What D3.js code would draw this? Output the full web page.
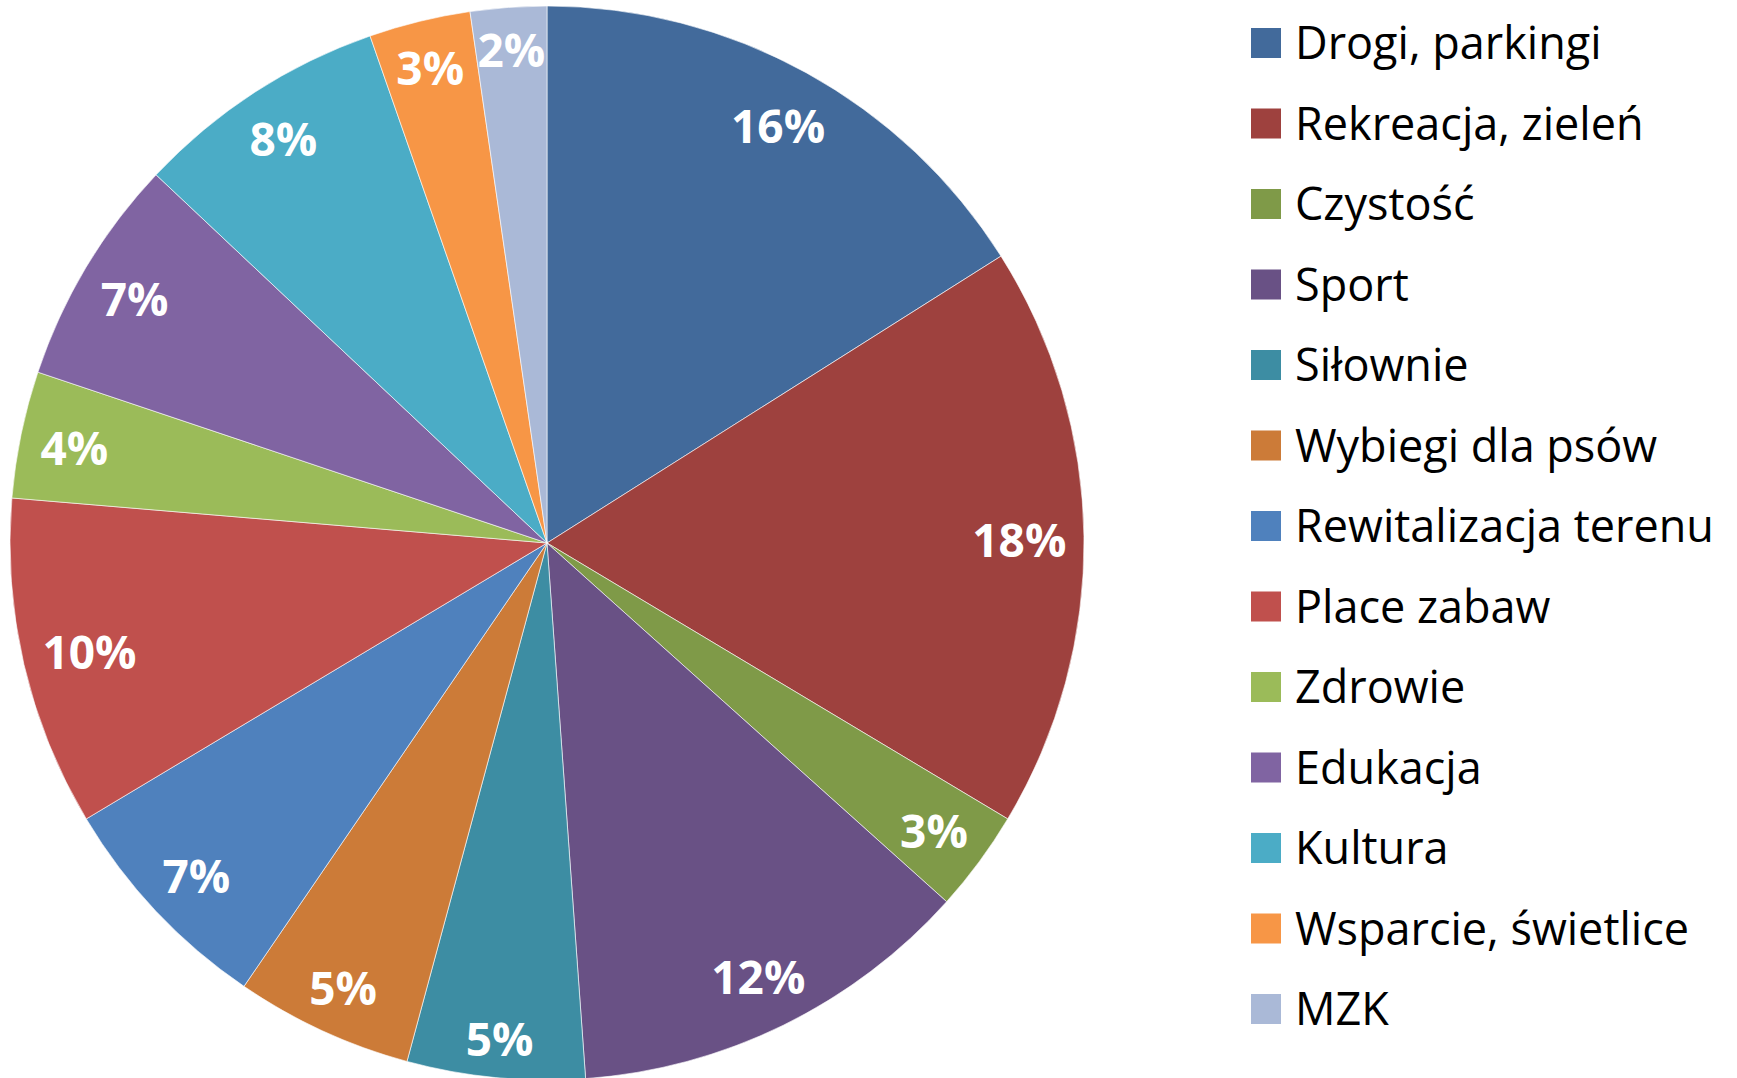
<!DOCTYPE html>
<html>
<head>
<meta charset="utf-8">
<script src="https://cdn.jsdelivr.net/npm/d3@7"></script>
<style>
  html, body { margin: 0; padding: 0; background: #fff; }
  svg text { font-family: "Open Sans", Lato, sans-serif; }
</style>
</head>
<body>
<div id="pie_chart"></div>
<script>
var categories = ["Drogi, parkingi", "Rekreacja, zieleń", "Czystość", "Sport", "Siłownie",
                  "Wybiegi dla psów", "Rewitalizacja terenu", "Place zabaw", "Zdrowie",
                  "Edukacja", "Kultura", "Wsparcie, świetlice", "MZK"]
var counts = [42, 46, 8, 32, 14, 14, 18, 26, 10, 18, 20, 8, 6]
var colors = ["#426A9B", "#9E413E", "#7F9A48", "#695185", "#3D8DA3", "#CC7B38",
              "#4F81BD", "#C0504D", "#9BBB59", "#8064A2", "#4BACC6", "#F79646", "#AAB9D7"]

const WIDTH = 1737
const HEIGHT = 1078
const CX = 547, CY = 543, R = 537

const svg = d3.select("#pie_chart")
            .append("svg")
            .attr("width", WIDTH)
            .attr("height", HEIGHT)

const total = d3.sum(counts)
var data = categories.map((c, i) => ({ name: c, value: counts[i], color: colors[i] }))

var pie = d3.pie().sort(null).value(d => d.value)
var arc = d3.arc().innerRadius(0).outerRadius(R)

const g_pie = svg.append("g")
            .attr("transform", "translate(" + CX + "," + CY + ")")

var arcs = pie(data)

g_pie.selectAll("path")
    .data(arcs)
    .enter()
    .append("path")
    .attr("d", arc)
    .attr("fill", d => d.data.color)
    .attr("stroke", "#ffffff")
    .attr("stroke-width", 0.6)

// labels placed "inside end": box corner kept a little inside the rim
var labels = g_pie.selectAll("text.lbl")
    .data(arcs)
    .enter()
    .append("text")
    .attr("class", "lbl")
    .attr("text-anchor", "middle")
    .attr("dy", "0.43em")
    .style("font-size", "46px")
    .style("font-weight", "bold")
    .style("fill", "#ffffff")
    .text(d => Math.round(d.data.value / total * 100) + "%")

labels.each(function(d) {
    var w = this.getComputedTextLength()
    var h = 40
    var a = (d.startAngle + d.endAngle) / 2
    var sx = Math.sin(a), sy = -Math.cos(a)
    var lo = 0, hi = R
    for (var k = 0; k < 40; k++) {
        var mid = (lo + hi) / 2
        var px = Math.abs(mid * sx) + w / 2, py = Math.abs(mid * sy) + h / 2
        if (Math.sqrt(px * px + py * py) > R - 17) hi = mid; else lo = mid
    }
    d3.select(this).attr("x", lo * sx).attr("y", lo * sy)
})

// legend
const g_legend = svg.append("g")
            .attr("transform", "translate(1251,43)")

var legendY = d3.scalePoint()
            .domain(categories)
            .range([0, 966])

var items = g_legend.selectAll("g")
    .data(data)
    .enter()
    .append("g")
    .attr("transform", d => "translate(0," + legendY(d.name) + ")")

items.append("rect")
    .attr("x", 0)
    .attr("y", -15)
    .attr("width", 30)
    .attr("height", 30)
    .attr("fill", d => d.color)

items.append("text")
    .attr("x", 44)
    .attr("dy", "0.36em")
    .style("font-size", "45px")
    .style("fill", "#000000")
    .text(d => d.name)
</script>
</body>
</html>
